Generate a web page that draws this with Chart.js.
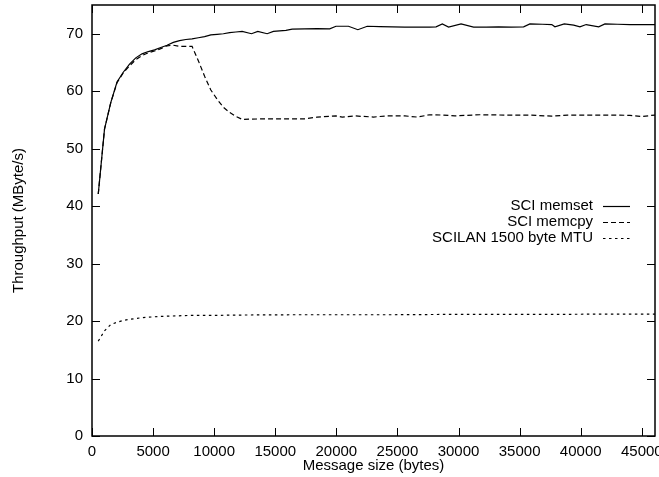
<!DOCTYPE html>
<html>
<head>
<meta charset="utf-8">
<script src="https://cdn.jsdelivr.net/npm/chart.js@4/dist/chart.umd.min.js"></script>
<style>
  html, body { margin: 0; padding: 0; background: #fff; }
  #c { display: block; }
</style>
</head>
<body>
<canvas id="c" width="659" height="477"></canvas>
<script>
/* ===== data ===== */
const MEMSET_X = [512, 1024, 1536, 2048, 2560, 3072, 3584, 4096, 4608, 5120, 5632, 6144, 6656, 7168, 7680, 8192,
  8704, 9216, 9728, 10240, 10752, 11264, 11776, 12288, 13056, 13568, 14336, 14848, 15872, 16384, 17408, 18432,
  19456, 19968, 20992, 21760, 22528, 23552, 24576, 25600, 26624, 27648, 28160, 28672, 29184, 30208, 31232,
  32256, 33280, 34304, 35328, 35840, 36864, 37632, 37888, 38656, 39424, 39936, 40448, 41472, 41984, 43008,
  44032, 45056, 46080];
const MEMSET_Y = [42.1, 53.4, 58.0, 61.6, 63.3, 64.7, 65.8, 66.5, 66.9, 67.2, 67.6, 68.0, 68.5, 68.8, 69.0, 69.1,
  69.3, 69.5, 69.8, 69.9, 70.0, 70.2, 70.3, 70.4, 70.0, 70.4, 70.0, 70.4, 70.6, 70.8, 70.85, 70.9,
  70.85, 71.3, 71.3, 70.7, 71.3, 71.25, 71.2, 71.15, 71.15, 71.15, 71.2, 71.7, 71.15, 71.7, 71.15,
  71.15, 71.2, 71.15, 71.2, 71.7, 71.65, 71.6, 71.2, 71.7, 71.5, 71.2, 71.6, 71.2, 71.7, 71.65,
  71.6, 71.6, 71.6];

const MEMCPY_X = [512, 1024, 1536, 2048, 2560, 3072, 3584, 4096, 4608, 5120, 5632, 6144, 6656, 7168, 7680, 8192,
  8704, 9216, 9728, 10240, 10752, 11264, 11776, 12288, 14336, 16384, 17408, 18432, 19968, 20480, 21504, 23040,
  24064, 25600, 26624, 27648, 28672, 29696, 31744, 33792, 35840, 37632, 38912, 41984, 44032, 44992, 46080];
const MEMCPY_Y = [42.1, 53.4, 58.0, 61.5, 63.2, 64.4, 65.5, 66.2, 66.7, 67.0, 67.4, 67.9, 68.0, 67.8, 67.8, 67.8,
  65.3, 62.6, 60.2, 58.6, 57.2, 56.3, 55.6, 55.1, 55.2, 55.2, 55.2, 55.5, 55.7, 55.5, 55.7, 55.5,
  55.7, 55.7, 55.5, 55.9, 55.85, 55.7, 55.9, 55.85, 55.85, 55.65, 55.85, 55.85, 55.8, 55.6, 55.85];

const SCILAN_X = [512, 1024, 1536, 2048, 2560, 3072, 4096, 5120, 6144, 8192, 10240, 12288, 16384, 20480, 24576,
  28672, 32768, 36864, 40960, 46080];
const SCILAN_Y = [16.5, 18.3, 19.4, 19.8, 20.1, 20.3, 20.6, 20.75, 20.85, 21.0, 21.0, 21.05, 21.1, 21.1, 21.1,
  21.15, 21.15, 21.15, 21.2, 21.2];

const SERIES_NAMES = ['SCI memset', 'SCI memcpy', 'SCILAN 1500 byte MTU'];
const X_TICKS = [0, 5000, 10000, 15000, 20000, 25000, 30000, 35000, 40000, 45000];
const Y_TICKS = [0, 10, 20, 30, 40, 50, 60, 70];
const X_MAX = 46080;
const Y_MAX = 75;

/* ===== style ===== */
const FONT = { family: '"Liberation Sans", Arial, Helvetica, sans-serif', size: 15 };
const TICK_LEN = 8;

const pts = (xs, ys) => xs.map((x, i) => ({ x, y: ys[i] }));

/* frame + inward ticks on all four sides (gnuplot look) */
const framePlugin = {
  id: 'frame',
  afterDatasetsDraw(chart) {
    const { ctx, chartArea: a, scales } = chart;
    ctx.save();
    ctx.strokeStyle = '#000';
    ctx.lineWidth = 1.5;
    ctx.strokeRect(a.left, a.top, a.right - a.left, a.bottom - a.top);
    ctx.lineWidth = 1;
    ctx.beginPath();
    X_TICKS.forEach(v => {
      const x = Math.round(scales.x.getPixelForValue(v)) + 0.5;
      ctx.moveTo(x, a.bottom); ctx.lineTo(x, a.bottom - TICK_LEN);
      ctx.moveTo(x, a.top);    ctx.lineTo(x, a.top + TICK_LEN);
    });
    Y_TICKS.forEach(v => {
      const y = Math.round(scales.y.getPixelForValue(v)) + 0.5;
      ctx.moveTo(a.left, y);  ctx.lineTo(a.left + TICK_LEN, y);
      ctx.moveTo(a.right, y); ctx.lineTo(a.right - TICK_LEN, y);
    });
    ctx.stroke();
    ctx.restore();
  }
};

/* key inside the plot, text right-aligned, sample line on the right */
const keyPlugin = {
  id: 'key',
  afterDraw(chart) {
    const { ctx, chartArea: a } = chart;
    const lineEnd = a.right - 25, lineStart = lineEnd - 27;
    ctx.save();
    ctx.font = `${FONT.size}px ${FONT.family}`;
    ctx.textAlign = 'right';
    ctx.textBaseline = 'middle';
    chart.data.datasets.forEach((ds, i) => {
      const y = a.top + 201 + i * 16;
      ctx.fillStyle = '#000';
      ctx.fillText(ds.label, lineStart - 10, y);
      ctx.strokeStyle = ds.borderColor;
      ctx.lineWidth = ds.borderWidth;
      ctx.setLineDash(ds.borderDash || []);
      ctx.beginPath();
      ctx.moveTo(lineStart, y + 0.5); ctx.lineTo(lineEnd, y + 0.5);
      ctx.stroke();
    });
    ctx.restore();
  }
};

const lineDs = (label, data, dash) => ({
  label, data,
  borderColor: '#000',
  borderWidth: 1.2,
  borderDash: dash,
  pointRadius: 0,
  tension: 0,
  fill: false
});

new Chart(document.getElementById('c').getContext('2d'), {
  type: 'line',
  data: {
    datasets: [
      lineDs(SERIES_NAMES[0], pts(MEMSET_X, MEMSET_Y), []),
      lineDs(SERIES_NAMES[1], pts(MEMCPY_X, MEMCPY_Y), [5, 3]),
      lineDs(SERIES_NAMES[2], pts(SCILAN_X, SCILAN_Y), [2.5, 3.5])
    ]
  },
  options: {
    responsive: false,
    animation: false,
    devicePixelRatio: 1,
    layout: { autoPadding: false, padding: { top: 5, right: 4, left: 0, bottom: 0 } },
    plugins: { legend: { display: false }, tooltip: { enabled: false } },
    scales: {
      x: {
        type: 'linear',
        min: 0, max: X_MAX,
        afterBuildTicks: s => { s.ticks = X_TICKS.map(v => ({ value: v })); },
        // fixed height, no extra room for the clipped "45000" label
        afterFit: s => { s.height = 41; s.paddingLeft = 0; s.paddingRight = 0; },
        grid: { display: false, drawTicks: false },
        border: { display: false },
        ticks: { font: FONT, color: '#000', padding: 7, maxRotation: 0, autoSkip: false,
                 callback: v => String(v) },
        title: { display: true, text: 'Message size (bytes)', font: FONT, color: '#000',
                 padding: { top: 0, bottom: 2 } }
      },
      y: {
        type: 'linear',
        min: 0, max: Y_MAX,
        afterBuildTicks: s => { s.ticks = Y_TICKS.map(v => ({ value: v })); },
        afterFit: s => { s.width = 92; s.paddingTop = 0; s.paddingBottom = 0; },
        grid: { display: false, drawTicks: false },
        border: { display: false },
        ticks: { font: FONT, color: '#000', padding: 9, callback: v => String(v) },
        title: { display: true, text: 'Throughput (MByte/s)', font: FONT, color: '#000',
                 padding: { top: 10, bottom: 0 } }
      }
    }
  },
  plugins: [framePlugin, keyPlugin]
});
</script>
</body>
</html>
